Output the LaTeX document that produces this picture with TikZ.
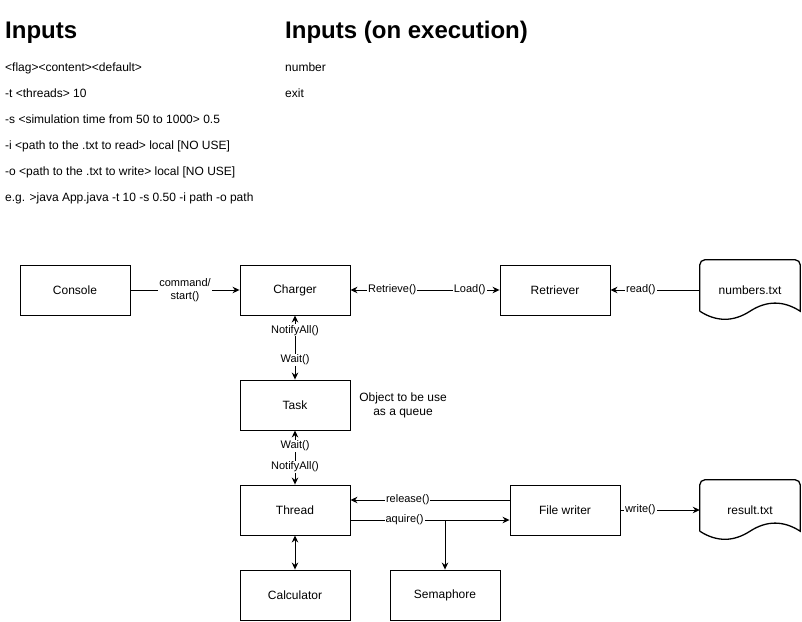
\documentclass[tikz,border=0pt]{standalone}
\usepackage{fontspec}
\setmainfont{Liberation Sans}
\usetikzlibrary{positioning, arrows.meta, calc}

% outline of a drawio style document (wavy bottom)
\newcommand{\docoutline}[1]{%
  \draw[line width=1.3pt, rounded corners=5pt]
    ([yshift=9pt]#1.south west) -- (#1.north west) -- (#1.north east)
    [sharp corners] -- ([yshift=9pt]#1.south east)
    .. controls +(-16.7pt,10.8pt) and +(16.7pt,10.8pt) .. ([yshift=9pt]#1.south)
    .. controls +(-16.7pt,-10.8pt) and +(16.7pt,-10.8pt) .. ([yshift=9pt]#1.south west);}

\begin{document}
\begin{tikzpicture}
  [>={Stealth[length=7pt,width=6.5pt]},
    node distance=100pt and 100pt,
    every node/.style={font=\fontsize{12}{14}\selectfont}]

  \tikzset{
    base/.style={
      on grid,
      align=center,
      inner sep=0pt,
    },
    process/.style={base,
      rectangle,
      draw=black, line width=0.9pt,
      minimum width=110pt,
      minimum height=50pt,
    },
    file/.style={base,
      minimum width=100pt,
      minimum height=60pt,
    },
    heading/.style={anchor=base west, inner sep=0pt,
      font=\fontsize{24}{28}\selectfont\bfseries},
    note/.style={anchor=base west, inner sep=0pt,
      font=\fontsize{12}{14}\selectfont},
    msg/.style={fill=white, inner sep=1pt, align=center,
      font=\fontsize{11}{13}\selectfont},
    flow/.style={->, draw, line width=0.9pt},
    twoway/.style={<->, draw, line width=0.9pt},
  }

  \useasboundingbox (0,0) rectangle (802pt,-621pt);

  % inputs
  \node[heading] (inputs) at (5pt,-38pt) {Inputs};
  \node[note] (flags) at (5pt,-71pt) {<flag><content><default>};
  \node[note] (threads) at (5pt,-97pt) {-t <threads> 10};
  \node[note] (simtime) at (5pt,-123pt) {-s <simulation time from 50 to 1000> 0.5};
  \node[note] (inpath) at (5pt,-149pt) {-i <path to the .txt to read> local [NO USE]};
  \node[note] (outpath) at (5pt,-175pt) {-o <path to the .txt to write> local [NO USE]};
  \node[note] (example) at (5pt,-201pt) {e.g. >java App.java -t 10 -s 0.50 -i path -o path};

  \node[heading] (exec) at (285pt,-38pt) {Inputs (on execution)};
  \node[note] (number) at (285pt,-71pt) {number};
  \node[note] (exit) at (285pt,-97pt) {exit};

  % diagram
  \node[process] (console) at (75pt,-290pt) {Console};
  \node[process, right=220pt of console] (charger) {Charger};
  \node[process, right=260pt of charger] (retriever) {Retriever};
  \node[file, right=195pt of retriever] (numbers) {numbers.txt};
  \docoutline{numbers}

  \node[process, below=115pt of charger] (task) {Task};
  \node[base, right=108pt of task] (queue) {Object to be use\\as a queue};

  \node[process, below=105pt of task] (thread) {Thread};
  \node[process, right=270pt of thread] (writer) {File writer};
  \node[file, right=185pt of writer] (result) {result.txt};
  \docoutline{result}

  \node[process, below=85pt of thread] (calc) {Calculator};
  \node[process, right=150pt of calc] (sema) {Semaphore};

  \draw[flow] (console) -- node[msg] {command/\\start()} (charger);
  \draw[twoway] (charger) -- node[msg, pos=0.28] {Retrieve()}
    node[msg, pos=0.8] {Load()} (retriever);
  \draw[flow] (numbers) -- node[msg, pos=0.66] {read()} (retriever);

  \draw[twoway] (charger) -- node[msg, pos=0.23] {NotifyAll()}
    node[msg, pos=0.69] {Wait()} (task);
  \draw[twoway] (task) -- node[msg, pos=0.29] {Wait()}
    node[msg, pos=0.67] {NotifyAll()} (thread);

  \draw[flow] ([yshift=10pt]writer.west) -- node[msg, pos=0.64] {release()}
    ([yshift=10pt]thread.east);
  \coordinate (aq) at ([yshift=-10pt]thread.east);
  \coordinate (fork) at (aq -| sema.north);
  \draw[flow] (aq) -- node[msg, pos=0.34] {aquire()} ([yshift=-10pt]writer.west);
  \draw[flow] (fork) -- (sema.north);

  \draw[flow] (writer) -- node[msg, pos=0.25] {write()} (result);
  \draw[twoway] (thread) -- (calc);
\end{tikzpicture}
\end{document}
